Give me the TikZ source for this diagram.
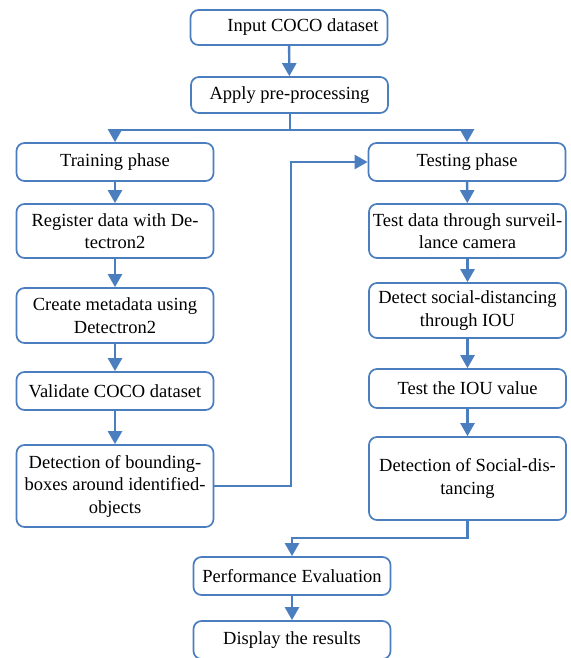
\documentclass[tikz,border=0pt]{standalone}
\usepackage{fontspec}
\setmainfont{Liberation Serif}
\usetikzlibrary{arrows.meta}
\definecolor{bl}{RGB}{74,126,190}
\begin{document}
\begin{tikzpicture}[x=1pt,y=-1pt,
  box/.style={draw=bl,line width=1.7pt,rounded corners=8pt,fill=white,
    minimum width=197pt,inner sep=2pt,align=center,
    font=\fontsize{18.5}{22.5}\selectfont},
  conn/.style={draw=bl,line width=2.4pt,-{Triangle[width=14pt,length=13pt]}},
  plain/.style={draw=bl,line width=2.4pt}]
\useasboundingbox (0,0) rectangle (570,658);
\node[box,minimum height=35pt] (in) at (289,27.5) {\hspace*{28pt}Input COCO dataset};
\node[box,minimum height=36pt] (pre) at (289.5,95) {Apply pre-processing};
\node[box,minimum height=38pt] (train) at (115,162) {Training phase};
\node[box,minimum height=54pt] (reg) at (115,231) {Register data with De-\\tectron2};
\node[box,minimum height=55pt] (meta) at (115,315.5) {Create metadata using\\Detectron2};
\node[box,minimum height=38pt] (val) at (115,391) {Validate COCO dataset};
\node[box,minimum height=82pt] (bbox) at (115,486) {Detection of bounding-\\boxes around identified-\\objects};
\node[box,minimum height=38pt] (test) at (467,162) {Testing phase};
\node[box,minimum height=54pt] (cam) at (467.5,231) {Test data through surveil-\\lance camera};
\node[box,minimum height=55pt] (iou) at (467.5,310.5) {Detect social-distancing\\through IOU};
\node[box,minimum height=39pt] (tiou) at (467.5,388.5) {Test the IOU value};
\node[box,minimum height=83pt] (sd) at (467.5,478.5) {Detection of Social-dis-\\tancing};
\node[box,minimum height=38pt] (perf) at (292,576) {Performance Evaluation};
\node[box,minimum height=38pt] (disp) at (292,640) {Display the results};
\draw[conn] (in) -- (pre);
\coordinate (sp) at (290,130);
\draw[plain] (pre.south -| sp) -- (sp);
\draw[plain] (sp -| train.north) -- (sp -| test.north);
\draw[conn] (sp -| train.north) -- (train.north);
\draw[conn] (sp -| test.north) -- (test.north);
\draw[conn] (train) -- (reg);
\draw[conn] (reg) -- (meta);
\draw[conn] (meta) -- (val);
\draw[conn] (val) -- (bbox);
\draw[conn] (test) -- (cam);
\draw[conn] (cam) -- (iou);
\draw[conn] (iou) -- (tiou);
\draw[conn] (tiou) -- (sd);
\coordinate (lx) at (291,0);
\draw[conn] (bbox.east) -| (lx |- test.west) -- (test.west);
\coordinate (jy) at (0,538);
\draw[conn] (sd.south) -- (sd.south |- jy) -| (perf.north);
\draw[conn] (perf) -- (disp);
\end{tikzpicture}
\end{document}
